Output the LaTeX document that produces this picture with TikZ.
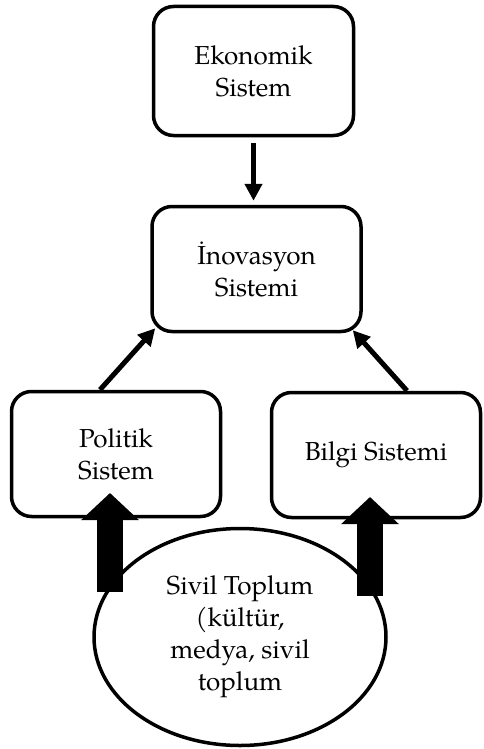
\documentclass[tikz,border=0pt]{standalone}
\usepackage{fontspec}
\setmainfont{TeX Gyre Pagella}
\usetikzlibrary{arrows.meta,positioning,shapes.geometric}

\begin{document}
\begin{tikzpicture}[x=1pt, y=-1pt, >={Triangle[length=17pt,width=17pt]}]
  \tikzset{sys/.style={rectangle,rounded corners=20pt,draw,line width=3.5pt,
      minimum width=209pt,minimum height=125pt,align=center,
      font=\fontsize{26}{32}\selectfont},
    civ/.style={ellipse,draw,line width=3.5pt,fill=white,minimum width=292pt,
      minimum height=217pt,inner sep=0pt,align=center,
      font=\fontsize{26}{32}\selectfont},
    link/.style={->,line width=5pt},
    bigarrow/.style={-{Triangle[length=27pt,width=56pt]},line width=26pt}}
  \useasboundingbox (0,0) rectangle (483,749);

  \node[sys, minimum width=200pt, minimum height=129pt] (eko) at (253.5,71) {Ekonomik\\Sistem};
  \node[sys] (ino) at (256.5,269) {İnovasyon\\Sistemi};
  \node[sys] (pol) at (116,454) {Politik\\Sistem};
  \node[sys] (bil) at (376,455) {Bilgi Sistemi};
  \node[civ] (civ) at (240,637) {Sivil Toplum\\(kültür,\\medya, sivil\\toplum};

  % thick arrows from the civil society
  \coordinate (lb) at (110,592);
  \coordinate (lt) at (110,493);
  \coordinate (rb) at (370,596);
  \coordinate (rt) at (370,497);

  \draw[link] ([yshift=-6pt]eko.south) -- ([yshift=4pt]eko.south |- ino.north);
  \draw[link] ([xshift=-16pt]pol.north) -- ([xshift=5pt,yshift=5pt]ino.south west);
  \draw[link] ([xshift=31pt]bil.north) -- ([xshift=-10pt,yshift=3pt]ino.south east);
  \draw[bigarrow] (lb) -- (lt);
  \draw[bigarrow] (rb) -- (rt);
\end{tikzpicture}
\end{document}
